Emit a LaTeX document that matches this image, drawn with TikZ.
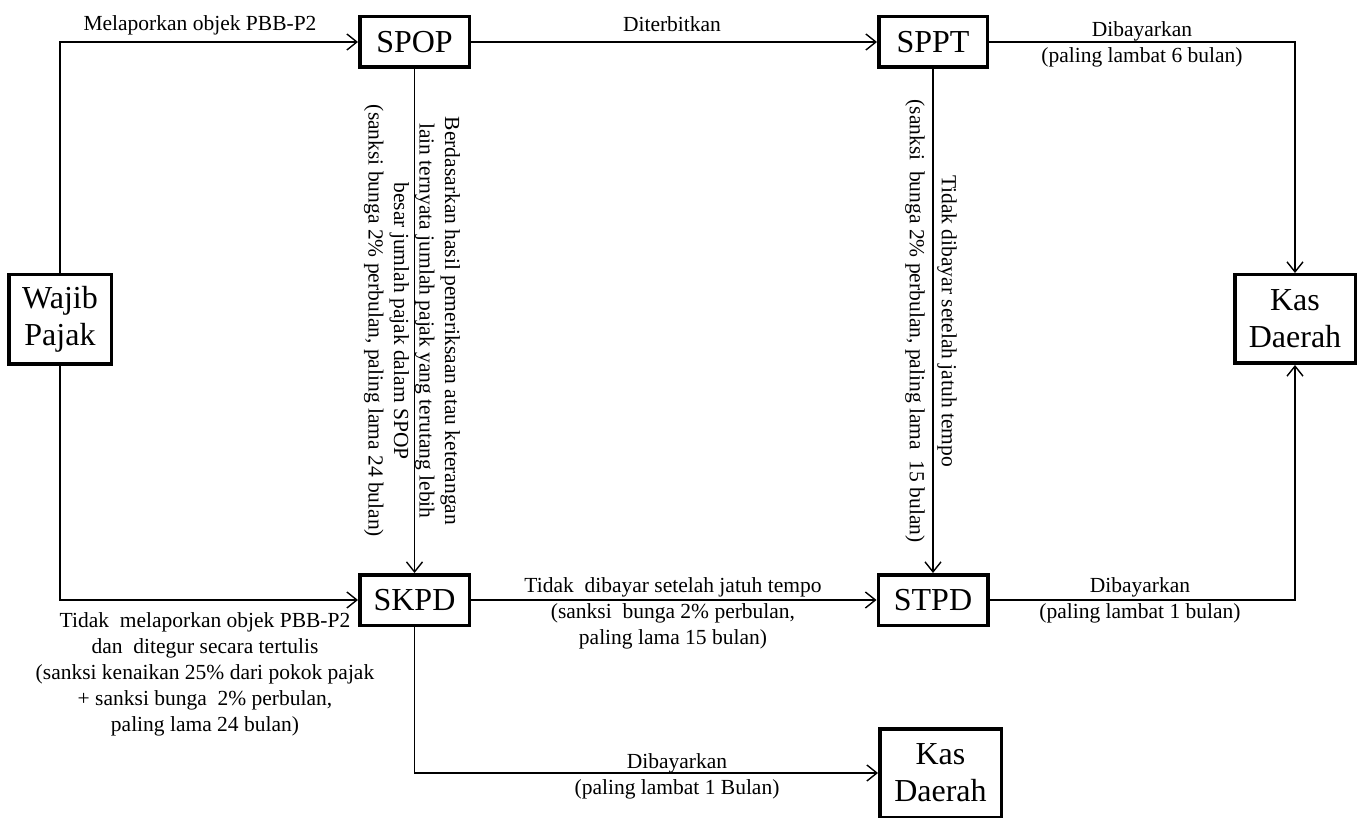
\documentclass[tikz,border=0pt]{standalone}
\usepackage{fontspec}
\setmainfont{Liberation Serif}
\usetikzlibrary{arrows.meta}
\begin{document}
\begin{tikzpicture}[x=1pt,y=-1pt,
  box/.style={draw, line width=3.5pt, inner sep=0pt, font=\fontsize{32}{37}\selectfont, align=center},
  lbl/.style={font=\fontsize{21.5}{26}\selectfont, align=center, inner sep=0pt},
  vlbl/.style={font=\fontsize{21.5}{25.5}\selectfont, align=center, inner sep=0pt, rotate=-90},
  conn/.style={line width=1.4pt, -{Straight Barb[length=10pt,width=16pt,line width=1.4pt]}}]
\useasboundingbox (0,0) rectangle (1366,818);
\clip (0,0) rectangle (1366,818);
% boxes
\node[box, minimum width=102.5pt, minimum height=89.5pt] (wp) at (60,319.5) {Wajib\\Pajak};
\node[box, minimum width=109.5pt, minimum height=50.5pt] (spop) at (414.5,42) {SPOP};
\node[box, minimum width=108.5pt, minimum height=50.5pt] (sppt) at (933,42) {SPPT};
\node[box, minimum width=120.5pt, minimum height=88.5pt] (kasr) at (1295,319) {Kas\\Daerah};
\node[box, minimum width=109.5pt, minimum height=50.5pt] (skpd) at (414.5,600) {SKPD};
\node[box, minimum width=109.5pt, minimum height=50.5pt] (stpd) at (933,600) {STPD};
\node[box, minimum width=121.5pt, minimum height=88.5pt] (kasb) at (940.5,773) {Kas\\Daerah};
% connectors
\draw[conn] (wp.north) |- (spop.west);
\draw[conn] (wp.south) |- (skpd.west);
\draw[conn] (spop.east) -- (sppt.west);
\draw[conn] (spop.south) -- (skpd.north);
\draw[conn] (sppt.south) -- (stpd.north);
\draw[conn] (skpd.east) -- (stpd.west);
\draw[conn] (sppt.east) -| (kasr.north);
\draw[conn] (stpd.east) -| (kasr.south);
\draw[conn] (skpd.south) |- (kasb.west);
% labels
\node[lbl, anchor=base] (l1) at (200,31) {Melaporkan objek PBB-P2};
\node[lbl, anchor=base] (l2) at (672,32) {Diterbitkan};
\node[lbl] (l3) at (1142,44) {Dibayarkan\\(paling lambat 6 bulan)};
\node[lbl] (l4) at (673,613) {Tidak\ \ dibayar setelah jatuh tempo\\(sanksi\ \ bunga 2\% perbulan,\\paling lama 15 bulan)};
\node[lbl] (l5) at (1140,600) {Dibayarkan\\(paling lambat 1 bulan)};
\node[lbl] (l6) at (205,674) {Tidak\ \ melaporkan objek PBB-P2\\dan\ \ ditegur secara tertulis\\(sanksi kenaikan 25\% dari pokok pajak\\+ sanksi bunga\ \ 2\% perbulan,\\paling lama 24 bulan)};
\node[lbl] (l7) at (677,776) {Dibayarkan\\(paling lambat 1 Bulan)};
\node[vlbl] (v1) at (412,321) {Berdasarkan hasil pemeriksaan atau keterangan\\lain ternyata jumlah pajak yang terutang lebih\\besar jumlah pajak dalam SPOP\\(sanksi bunga 2\% perbulan, paling lama 24 bulan)};
\node[vlbl] (v3) at (947,321) {Tidak dibayar setelah jatuh tempo};
\node[vlbl] (v4) at (915,321) {(sanksi\ \ bunga 2\% perbulan, paling lama\ \ 15 bulan)};
\end{tikzpicture}
\end{document}
